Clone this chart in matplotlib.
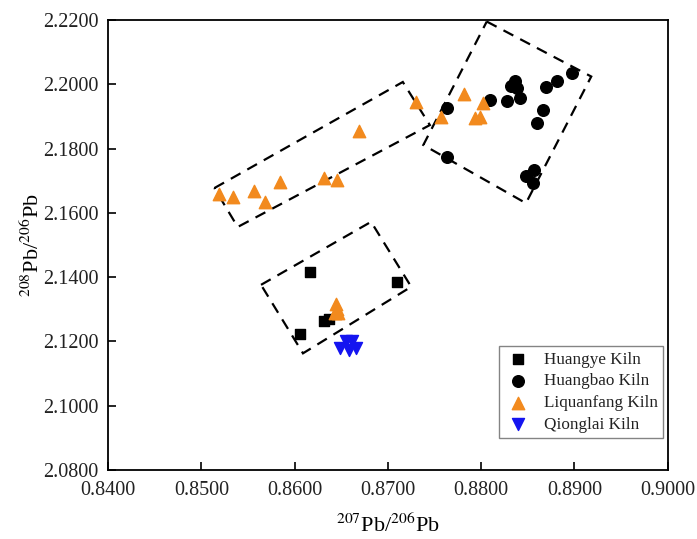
import numpy as np
import matplotlib
matplotlib.use("Agg")
import matplotlib.pyplot as plt
from matplotlib.patches import Polygon

plt.rcParams["font.family"] = ["Liberation Serif", "DejaVu Serif"]
plt.rcParams["mathtext.fontset"] = "stix"

# ---- data ----
huangye_x = [0.8617, 0.8710, 0.8631, 0.8637, 0.8606]
huangye_y = [2.1417, 2.1386, 2.1264, 2.1270, 2.1223]

huangbao_x = [0.8763, 0.8810, 0.8836, 0.8832, 0.8838, 0.8828, 0.8842, 0.8870,
              0.8881, 0.8897, 0.8866, 0.8860, 0.8763, 0.8848, 0.8857, 0.8856]
huangbao_y = [2.1925, 2.1951, 2.2011, 2.1993, 2.1988, 2.1949, 2.1956, 2.1991,
              2.2010, 2.2036, 2.1920, 2.1879, 2.1775, 2.1716, 2.1733, 2.1694]

liquanfang_x = [0.8519, 0.8534, 0.8556, 0.8568, 0.8584, 0.8631, 0.8645, 0.8669,
                0.8730, 0.8757, 0.8782, 0.8793, 0.8799, 0.8802,
                0.8644, 0.8645, 0.8643, 0.8647]
liquanfang_y = [2.1659, 2.1649, 2.1668, 2.1634, 2.1696, 2.1708, 2.1702, 2.1855,
                2.1945, 2.1898, 2.1970, 2.1895, 2.1898, 2.1942,
                2.1316, 2.1301, 2.1288, 2.1288]

qionglai_x = [0.8655, 0.8661, 0.8649, 0.8666, 0.8658]
qionglai_y = [2.1201, 2.1201, 2.1180, 2.1180, 2.1173]

# dashed group outlines (corner points)
box_liquanfang = [(0.8514, 2.1677), (0.8716, 2.2007), (0.8745, 2.1873), (0.8539, 2.1556)]
box_huangbao = [(0.8806, 2.2195), (0.8918, 2.2024), (0.8848, 2.1630), (0.8738, 2.1811)]
box_huangye = [(0.8564, 2.1376), (0.8682, 2.1572), (0.8725, 2.1370), (0.8609, 2.1163)]

x_ticks = [0.84, 0.85, 0.86, 0.87, 0.88, 0.89, 0.90]
y_ticks = [2.08, 2.10, 2.12, 2.14, 2.16, 2.18, 2.20, 2.22]

ORANGE = "#F28A1E"
BLUE = "#1414F0"

fig = plt.figure(figsize=(6.97, 5.39), dpi=100)
ax = fig.add_axes([0.155, 0.128, 0.803, 0.835])

ax.scatter(huangye_x, huangye_y, marker="s", s=55, color="black", label="Huangye Kiln", zorder=3)
ax.scatter(huangbao_x, huangbao_y, marker="o", s=70, color="black", label="Huangbao Kiln", zorder=3)
ax.scatter(liquanfang_x, liquanfang_y, marker="^", s=80, color=ORANGE, label="Liquanfang Kiln", zorder=3)
ax.scatter(qionglai_x, qionglai_y, marker="v", s=75, color=BLUE, label="Qionglai Kiln", zorder=3)

for box in (box_liquanfang, box_huangbao, box_huangye):
    ax.add_patch(Polygon(box, closed=True, fill=False, edgecolor="black",
                         linewidth=1.6, linestyle=(0, (5, 3.5)), zorder=2))

ax.set_xlim(0.84, 0.90)
ax.set_ylim(2.08, 2.22)
ax.set_xticks(x_ticks)
ax.set_yticks(y_ticks)
ax.set_xticklabels([f"{v:.4f}" for v in x_ticks])
ax.set_yticklabels([f"{v:.4f}" for v in y_ticks])
ax.tick_params(direction="in", length=6, width=1.2, labelsize=14.5, pad=8,
               top=False, right=False, labelcolor="#222222")
ax.tick_params(axis="y", pad=7)
for sp in ax.spines.values():
    sp.set_linewidth(1.3)

ax.set_xlabel(r"$^{207}$Pb/$^{206}$Pb", fontsize=16, labelpad=10)
ax.set_ylabel(r"$^{208}$Pb/$^{206}$Pb", fontsize=16, labelpad=-1)

leg = ax.legend(loc="lower right", fontsize=12.3, frameon=True, fancybox=False,
                edgecolor="#666666", handletextpad=0.7, borderpad=0.3,
                labelspacing=0.34, handlelength=1.6, borderaxespad=0,
                bbox_to_anchor=(0.991, 0.071))
leg.get_frame().set_linewidth(1.0)
for t in leg.get_texts():
    t.set_color("#222222")

fig.savefig("out.png", dpi=100)
